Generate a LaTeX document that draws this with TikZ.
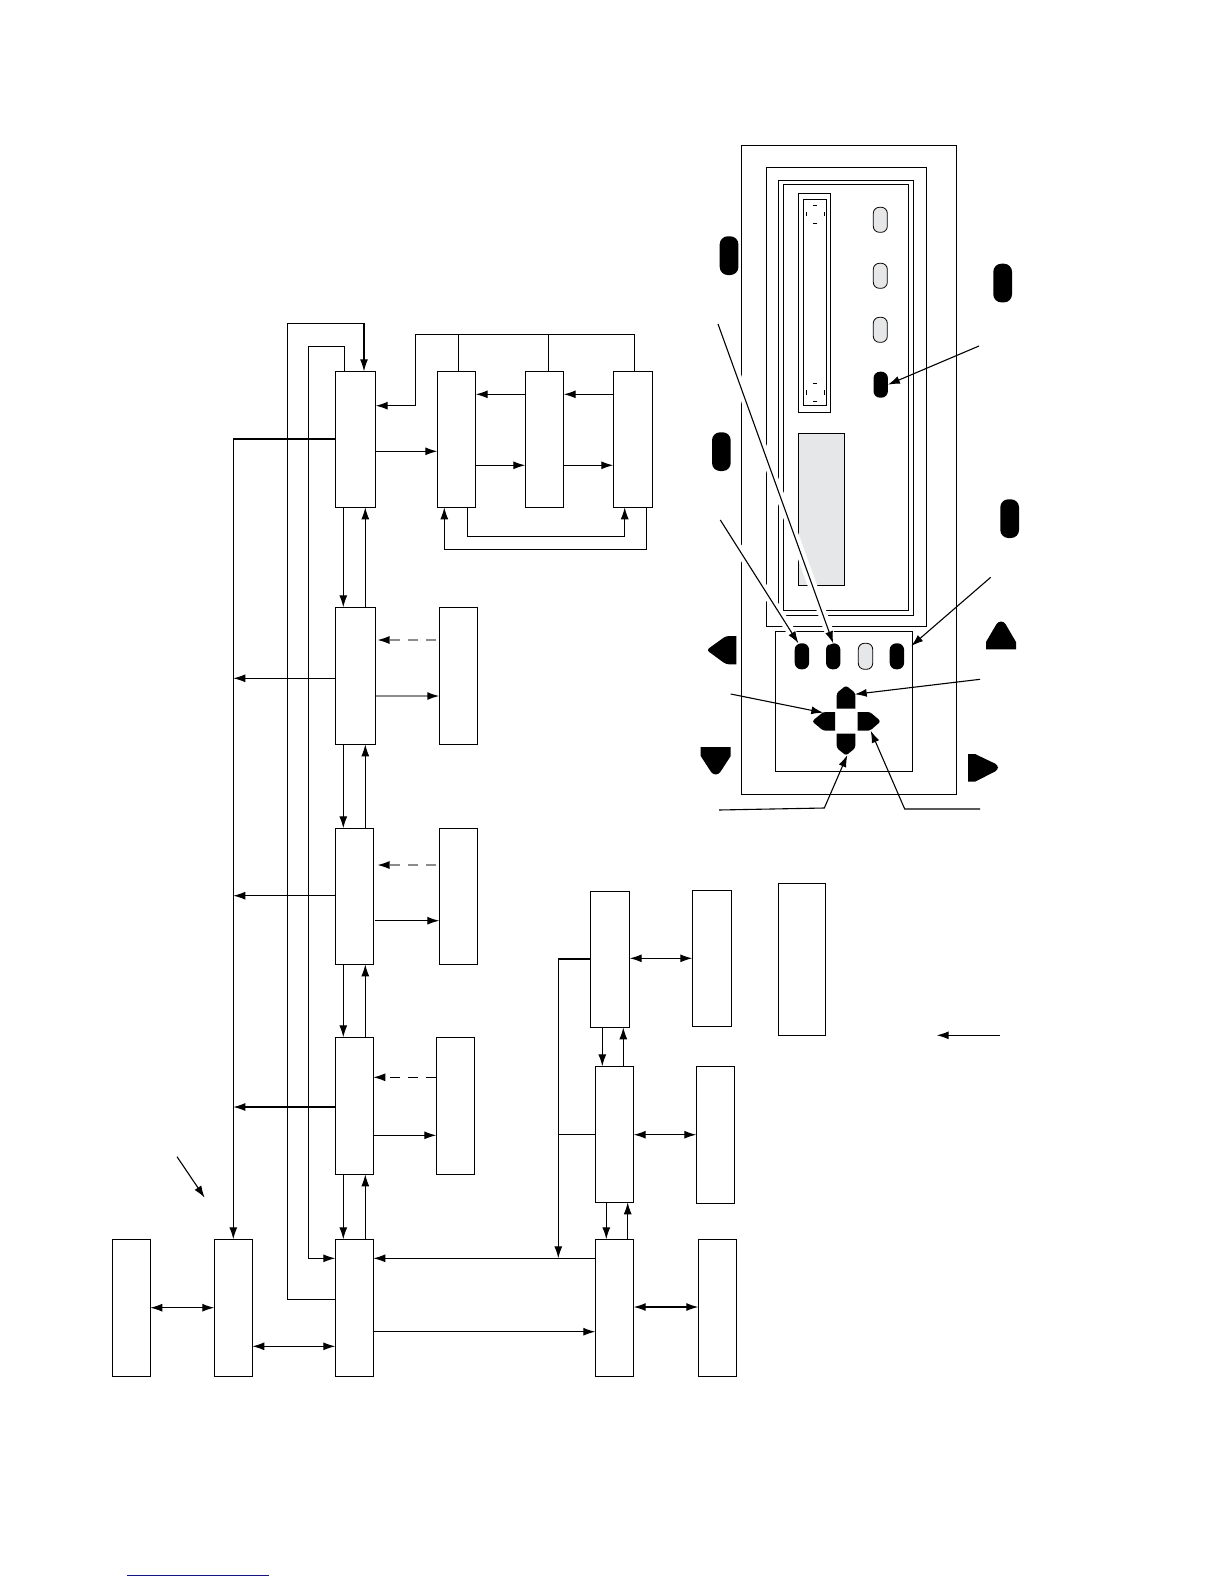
\documentclass[tikz,border=0pt]{standalone}
\usepackage{xcolor}
\usetikzlibrary{arrows.meta,positioning}
\definecolor{keygray}{RGB}{230,231,232}
\definecolor{ruleblue}{RGB}{20,20,130}
\definecolor{fadegray}{RGB}{140,140,140}
\tikzset{
    blockbox/.style={draw,line width=1.1pt,anchor=north west,inner sep=0pt,outer sep=0pt},
    wire/.style={line width=1.1pt},
    arr/.style={wire,-{Latex[length=12pt,width=8pt,black]}},
    twoway/.style={wire,{Latex[length=12pt,width=8pt,black]}-{Latex[length=12pt,width=8pt,black]}},
    fadearr/.style={arr,draw=fadegray,line width=1.4pt},
    dasharr/.style={arr,dash pattern=on 10pt off 8pt},
    darkpill/.style={anchor=north west,fill=black,inner sep=0pt,outer sep=0pt,rounded corners=6.5pt},
    lightpill/.style={anchor=north west,draw,fill=keygray,line width=0.8pt,inner sep=0pt,outer sep=0pt,rounded corners=6pt},
    halo/.style={preaction={draw=white,line width=9pt,-}},
}
\begin{document}
\begin{tikzpicture}[x=1pt,y=-1pt]
    \useasboundingbox (0,0) rectangle (1224,1584);
    % panel frames
    \foreach \name/\x/\y/\w/\h in {frameA/741.3/145.3/215.4/649,frameB/766.3/167.3/160.4/459,
        frameC/778.3/180.3/135.4/435,frameD/783.3/184.3/125.4/426.4,
        stripA/798.3/193.3/32.4/219,stripB/803.3/199.3/23.4/206.4,lowerpanel/775.7/631.3/136.6/140} {
        \node[blockbox,minimum width=\w pt,minimum height=\h pt] (\name) at (\x,\y) {};
    }
    \node[blockbox,fill=keygray,minimum width=46.4pt,minimum height=152pt] (window) at (798.3,433.3) {};
    \foreach \c in {214,392.3} {
        \foreach \a in {0,90,180,270} {
            \draw[line width=0.8pt] (815,\c) ++(\a-14:9.3) arc[start angle=\a-14,end angle=\a+14,radius=9.3];
        }
    }
    % keys on the panel
    \foreach \name/\x/\y in {keyA/873.3/207.3,keyB/873.3/263.3,keyC/873.3/317.3} {
        \node[lightpill,minimum width=14pt,minimum height=25pt] (\name) at (\x,\y) {};
    }
    \node[lightpill,minimum width=14.4pt,minimum height=26pt] (keyG) at (858.3,643.3) {};
    \foreach \name/\x/\y in {keyD/873.5/371.7,keyE/794.7/643.3,keyF/826/643.3,keyH/889.7/643.3} {
        \node[darkpill,minimum width=14.4pt,minimum height=26pt] (\name) at (\x,\y) {};
    }
    \foreach \name/\x/\y in {bigA/719.7/236.3,bigB/993.3/263.7,bigC/712/432.3,bigD/1000.3/499.3} {
        \node[darkpill,rounded corners=8pt,minimum width=18.7pt,minimum height=38.7pt] (\name) at (\x,\y) {};
    }
    % cross keys
    \fill (836.7,708.7) [rounded corners=2.5pt] -- (836.7,693) -- (846,685.5) -- (855.3,693) [sharp corners] -- (855.3,708.7) -- cycle;
    \fill (836.7,733.7) [rounded corners=2.5pt] -- (836.7,748) -- (846,755.5) -- (855.3,748) [sharp corners] -- (855.3,733.7) -- cycle;
    \fill (835,712) [rounded corners=2.5pt] -- (823.3,712) -- (812,721.3) -- (823.3,730.7) [sharp corners] -- (835,730.7) -- cycle;
    \fill (857.7,712) [rounded corners=2.5pt] -- (870,712) -- (880.8,721.3) -- (870,730.7) [sharp corners] -- (857.7,730.7) -- cycle;
    % loose arrow shapes
    \fill (736.3,636) [rounded corners=3pt] -- (726,636) -- (706.5,650) -- (726,664.3) [sharp corners] -- (736.3,664.3) -- cycle;
    \fill (986,649.3) -- (986,642) [rounded corners=3pt] -- (998,621.5) -- (1004,621.5) [sharp corners] -- (1016,642) -- (1016,649.3) -- cycle;
    \fill (700.7,747) -- (730.7,747) -- (730.7,756) [rounded corners=3pt] -- (718.7,774.5) -- (712.7,774.5) [sharp corners] -- (700.7,756) -- cycle;
    \fill (968,754) -- (975,754) [rounded corners=3pt] -- (998,765) -- (998,770) [sharp corners] -- (975,781.7) -- (968,781.7) -- cycle;
    % leaders to the keys
    \coordinate (fromD) at (979,346);
    \coordinate (fromF) at (718,324);
    \coordinate (fromE) at (720.3,520);
    \coordinate (fromH) at (990.7,577.3);
    \coordinate (toH) at (911.3,646);
    \coordinate (fromUp) at (980,679.3);
    \coordinate (toUp) at (854.7,694.3);
    \coordinate (fromLeft) at (730.7,694);
    \coordinate (toLeft) at (823.3,712.7);
    \coordinate (fromDown) at (719,810);
    \coordinate (kneeDown) at (824.3,808);
    \coordinate (toDown) at (847.3,755);
    \coordinate (fromRight) at (980,809);
    \coordinate (kneeRight) at (904.7,809);
    \coordinate (toRight) at (870.7,730.7);
    \draw[arr] (fromD) -- (keyD.east);
    \draw[arr,halo] (fromF) -- (keyF.north);
    \draw[arr,halo] (fromE) -- (keyE.105);
    \draw[arr] (fromH) -- (toH);
    \draw[arr] (fromUp) -- (toUp);
    \draw[arr] (fromLeft) -- (toLeft);
    \draw[arr] (fromDown) -- (kneeDown) -- (toDown);
    \draw[arr] (fromRight) -- (kneeRight) -- (toRight);
    % blocks
    \foreach \name/\x/\y/\w/\h in {ctrlA/335.3/371.3/40.4/136,regA/437.3/371.3/38.4/136,regB/525.3/371.3/38.4/136,regC/613.3/371.3/39.4/136,
        ctrlB/335.3/607.3/40.4/137,sideB/439.3/607.3/38.4/137,
        ctrlC/335.3/828.3/38/136,sideC/439.3/828.3/38.4/136,
        ctrlD/335.3/1037.3/38/137,sideD/436.3/1037.3/38.4/137,
        ctrlE/335.3/1239.3/38/137,hostA/112.3/1239.3/38/137,hostB/214.3/1239.3/38/137,
        portA/590.3/891.3/39.4/136,devA/692.3/890.3/39.4/136,legend/778.3/883.3/47.4/152,
        portB/595.3/1066.3/38.4/136,devB/696.3/1066.3/38.4/137,
        portC/595.3/1239.3/38.4/137,devC/698.3/1239.3/38.4/137} {
        \node[blockbox,minimum width=\w pt,minimum height=\h pt] (\name) at (\x,\y) {};
    }
    % rails
    \coordinate (railLong) at (287.5,323.3);
    \coordinate (railShort) at (308.5,346.3);
    \coordinate (busLeft) at (233.3,439);
    \coordinate (busRight) at (558.3,959);
    \coordinate (topLeft) at (415.7,334.3);
    \coordinate (topRight) at (634.3,334.3);
    \coordinate (loopA) at (467.3,536.3);
    \coordinate (loopB) at (646.7,549.3);
    % top row
    \draw[arr] (ctrlE.west |- 0,1299.3) -| (railLong) -| (ctrlA.north -| 364,0);
    \draw[arr] (ctrlA.north -| 344.3,0) |- (railShort) |- (ctrlE.west |- 0,1258.3);
    \draw[arr] (regC.north -| topRight) |- (topLeft) |- (ctrlA.east |- 0,405.7);
    \draw[wire] (regA.north -| 458.3,0) -- (topLeft -| 458.3,0);
    \draw[wire] (regB.north -| 548.3,0) -- (topLeft -| 548.3,0);
    \draw[arr] (ctrlA.east |- 0,451.3) -- (regA.west |- 0,451.3);
    \draw[arr] (regC.west |- 0,394.3) -- (regB.east |- 0,394.3);
    \draw[arr] (regB.west |- 0,394.3) -- (regA.east |- 0,394.3);
    \draw[arr] (regA.east |- 0,465.3) -- (regB.west |- 0,465.3);
    \draw[arr] (regB.east |- 0,465.3) -- (regC.west |- 0,465.3);
    \draw[arr] (regA.south -| loopA) -- (loopA) -| (regC.south -| 624.7,0);
    \draw[arr] (regC.south -| loopB) -- (loopB) -| (regA.south -| 444.3,0);
    % main column
    \foreach \upper/\lower in {ctrlA/ctrlB,ctrlB/ctrlC,ctrlC/ctrlD,ctrlD/ctrlE} {
        \draw[arr] (\upper.south -| 343.3,0) -- (\lower.north -| 343.3,0);
        \draw[arr] (\lower.north -| 365.3,0) -- (\upper.south -| 365.3,0);
    }
    \draw[arr] (ctrlA.west |- busLeft) -- (busLeft) -- (hostB.north);
    \draw[arr] (ctrlB.west |- 0,678.3) -- (busLeft |- 0,678.3);
    \draw[arr] (ctrlC.west |- 0,895.7) -- (busLeft |- 0,895.7);
    \draw[arr] (ctrlD.west |- 0,1107) -- (busLeft |- 0,1107);
    % side blocks
    \draw[arr,dash pattern=on 10pt off 8pt,draw=fadegray] (sideB.west |- 0,640) ++(-3,0) -- (377.5,640);
    \draw[fadearr] (ctrlB.east |- 0,696) -- (sideB.west |- 0,696);
    \draw[arr,dash pattern=on 10pt off 8pt,draw=fadegray] (sideC.west |- 0,865) ++(-3,0) -- (377.5,865);
    \draw[arr] (ctrlC.east |- 0,920.7) ++(2,0) -- (sideC.west |- 0,920.7);
    \draw[dasharr] (sideD.west |- 0,1077.3) -- (ctrlD.east |- 0,1077.3);
    \draw[arr] (ctrlD.east |- 0,1135.3) -- (sideD.west |- 0,1135.3);
    % bottom row
    \draw[twoway] (hostA.east |- 0,1307.7) -- (hostB.west |- 0,1307.7);
    \draw[twoway] (hostB.east |- 0,1346.3) -- (ctrlE.west |- 0,1346.3);
    \draw[arr] (portC.west |- 0,1258.3) -- (ctrlE.east |- 0,1258.3);
    \draw[arr] (ctrlE.east |- 0,1331.7) -- (portC.west |- 0,1331.7);
    % port column
    \draw[twoway] (portA.east |- 0,958.3) -- (devA.west |- 0,958.3);
    \draw[twoway] (portB.east |- 0,1134.7) -- (devB.west |- 0,1134.7);
    \draw[twoway] (portC.east |- 0,1307) -- (devC.west |- 0,1307);
    \draw[arr] (portA.south -| 602.3,0) -- (portB.north -| 602.3,0);
    \draw[arr] (portB.north -| 623.3,0) -- (portA.south -| 623.3,0);
    \draw[arr] (portB.south -| 606.3,0) -- (portC.north -| 606.3,0);
    \draw[arr] (portC.north -| 627.7,0) -- (portB.south -| 627.7,0);
    \draw[arr] (portA.west |- busRight) -- (busRight) -- (busRight |- 0,1258.3);
    \draw[wire] (portB.west |- 0,1134.3) -- (busRight |- 0,1134.3);
    % free arrows
    \coordinate (noteA) at (177,1156.7);
    \coordinate (noteAend) at (204.7,1197.7);
    \coordinate (noteB) at (1000,1035.3);
    \coordinate (noteBend) at (936.7,1035.3);
    \draw[arr] (noteA) -- (noteAend);
    \draw[arr] (noteB) -- (noteBend);
    \coordinate (ruleA) at (127,1575.3);
    \coordinate (ruleB) at (269,1575.3);
    \draw[ruleblue,line width=1.3pt] (ruleA) -- (ruleB);
\end{tikzpicture}
\end{document}
